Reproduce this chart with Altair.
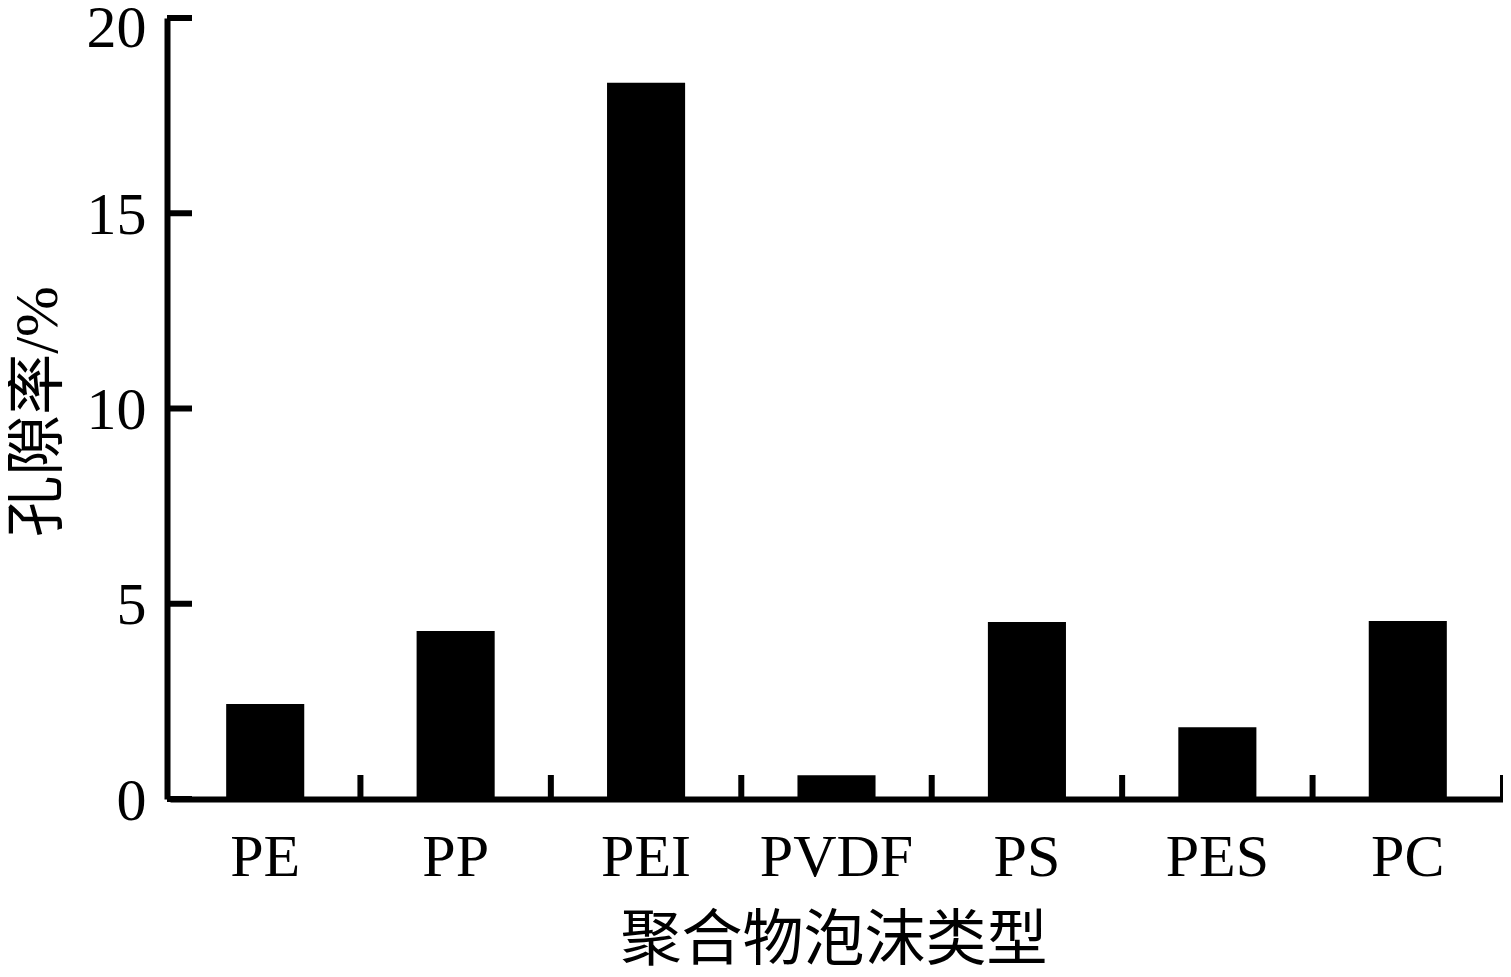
import altair as alt
import pandas as pd

categories = ["PE", "PP", "PEI", "PVDF", "PS", "PES", "PC"]
porosity = [2.43, 4.30, 18.34, 0.61, 4.53, 1.84, 4.56]
y_tick_values = [0, 5, 10, 15, 20]

df = pd.DataFrame({"type": categories, "porosity": porosity})
ticks_df = pd.DataFrame({"v": y_tick_values})

W, H = 1333, 781
SERIF = "Liberation Serif"
TITLE_FONT = "Liberation Serif, Noto Sans CJK SC"

xscale = alt.Scale(domain=categories, paddingInner=0, paddingOuter=0)
yscale = alt.Scale(domain=[0, 20], nice=False, zero=True)

x_axis = alt.Axis(title="聚合物泡沫类型", labelAngle=0, labelPadding=29,
                  titleX=W / 2 - 3, titleY=142, titleBaseline="middle",
                  titleAlign="center")
y_axis = alt.Axis(values=y_tick_values, title="孔隙率/%", labelPadding=21,
                  offset=3, titleAngle=-90, titleX=-129, titleY=393,
                  titleBaseline="middle", titleAlign="center",
                  labelOffset={"condition": {"test": "datum.value === 20", "value": 10},
                               "value": 2})

bars = alt.Chart(df).mark_bar(color="#000", width=alt.RelativeBandSize(0.41)).encode(
    x=alt.X("type:N", sort=categories, scale=xscale, axis=x_axis),
    y=alt.Y("porosity:Q", scale=yscale, axis=y_axis),
)

xticks = alt.Chart(df).mark_rule(color="#000", strokeWidth=6).encode(
    x=alt.X("type:N", sort=categories, scale=xscale, bandPosition=1, axis=x_axis),
    y=alt.value(H),
    y2=alt.value(H - 24),
)

yticks = alt.Chart(ticks_df).mark_rule(color="#000", strokeWidth=6).encode(
    y=alt.Y("v:Q", scale=yscale, axis=y_axis),
    x=alt.value(-3),
    x2=alt.value(22),
)

chart = alt.layer(bars, xticks, yticks).properties(
    width=W,
    height=H,
    padding={"left": 162, "top": 10, "right": 0, "bottom": 168},
    autosize=alt.AutoSizeParams(type="none"),
).configure_view(stroke=None).configure_axis(
    labelFont=SERIF,
    labelFontSize=60,
    labelColor="#000",
    titleFont=TITLE_FONT,
    titleFontSize=61,
    titleFontWeight="normal",
    titleColor="#000",
    domainColor="#000",
    domainWidth=6,
    ticks=False,
    tickSize=0,
    grid=False,
)

chart.save("out.html", embed_options={"renderer": "svg", "actions": False})
